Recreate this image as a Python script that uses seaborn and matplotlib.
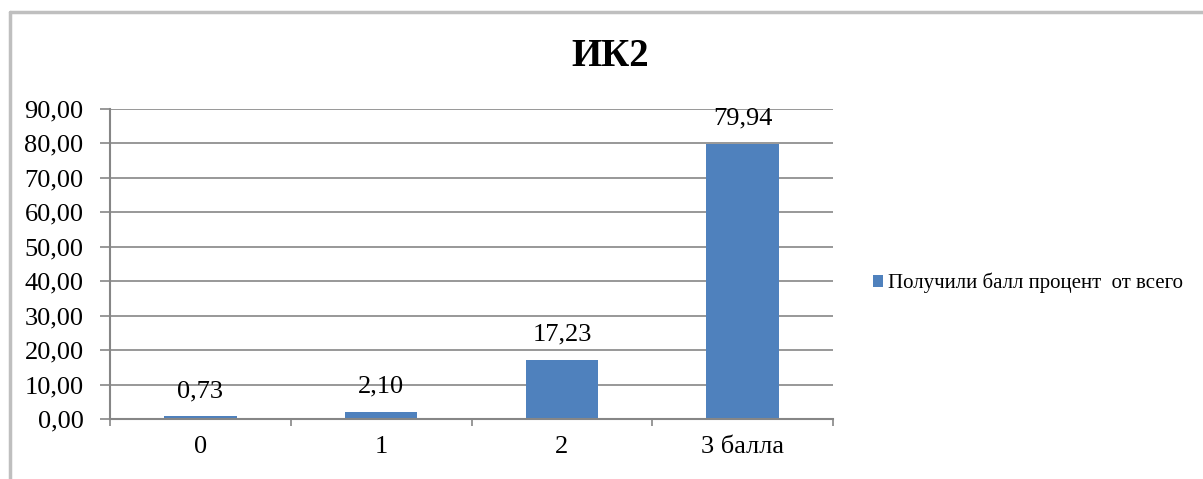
import matplotlib
matplotlib.use("Agg")
import matplotlib.pyplot as plt
import seaborn as sns
from matplotlib.lines import Line2D
from matplotlib.ticker import FuncFormatter

categories = ["0", "1", "2", "3 балла"]
values = [0.73, 2.10, 17.23, 79.94]
series_name = "Получили балл процент  от всего"
title = "ИК2"

sns.set_style("white")
plt.rcParams["font.family"] = ["Liberation Serif", "DejaVu Serif"]
plt.rcParams["text.color"] = "black"
plt.rcParams["xtick.color"] = "black"
plt.rcParams["ytick.color"] = "black"

W, H = 1203, 479
fig = plt.figure(figsize=(W / 100, H / 100), dpi=100)
ax = fig.add_axes([110 / W, 1 - 419 / H, (833 - 110) / W, (419 - 109) / H])

sns.barplot(x=categories, y=values, color="#4f81bd", width=0.4,
            label=series_name, ax=ax, saturation=1, linewidth=0)

ax.set_ylim(0, 90)
ax.set_xlim(-0.5, len(categories) - 0.5)
ax.set_yticks(range(0, 91, 10))
ax.yaxis.set_major_formatter(FuncFormatter(lambda v, p: f"{v:.2f}".replace(".", ",")))
ax.yaxis.grid(True, color="#868686", linewidth=1.2)
ax.set_axisbelow(True)

for s in ["top", "right"]:
    ax.spines[s].set_visible(False)
for s in ["left", "bottom"]:
    ax.spines[s].set_color("#868686")
    ax.spines[s].set_linewidth(1.5)

ax.tick_params(axis="y", which="major", length=7, width=1.2, color="#868686",
               labelsize=19, pad=12, left=True, labelcolor="black")
ax.tick_params(axis="x", which="major", length=0, labelsize=19, pad=12, labelcolor="black")
ax.set_xticks([i - 0.5 for i in range(len(categories) + 1)], minor=True)
ax.tick_params(axis="x", which="minor", length=5, width=1.2, color="#868686", bottom=True)
ax.set_xlabel("")
ax.set_ylabel("")

ax.bar_label(ax.containers[0], labels=[f"{v:.2f}".replace(".", ",") for v in values],
             fontsize=19, padding=10, color="black")

ax.legend(loc="center left", bbox_to_anchor=(854 / W, 1 - 283 / H),
          bbox_transform=fig.transFigure, frameon=False, fontsize=15,
          handlelength=0.5, handleheight=0.5, handletextpad=0.25, labelcolor="black")

fig.text(610 / W, 1 - 56 / H, title, ha="center", va="center",
         fontsize=28, fontweight="bold", color="black")

# outer chart frame
fig.add_artist(Line2D([10 / W, 1], [1 - 12 / H, 1 - 12 / H], color="#bfbfbf", linewidth=2.5))
fig.add_artist(Line2D([10 / W, 10 / W], [0, 1 - 12 / H], color="#bfbfbf", linewidth=2.5))

fig.savefig("out.png", dpi=100)
